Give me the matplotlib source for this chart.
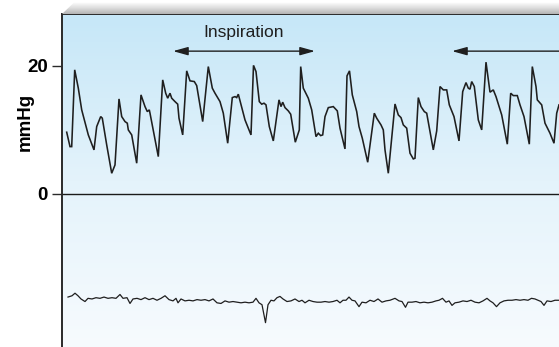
import numpy as np
import matplotlib
matplotlib.use("Agg")
import matplotlib.pyplot as plt
from matplotlib.colors import LinearSegmentedColormap
from matplotlib.patches import Polygon

# ---- data (time in s, pressure in mmHg) ----
pressure_t = [0.047, 0.08, 0.097, 0.127, 0.163, 0.197, 0.263, 0.32, 0.347, 0.387, 0.403, 0.447,
              0.497, 0.53, 0.57, 0.597, 0.63, 0.653, 0.663, 0.697, 0.747, 0.79, 0.83, 0.853,
              0.873, 0.88, 0.963, 1.007, 1.037, 1.057, 1.08, 1.097, 1.13, 1.157, 1.17, 1.207,
              1.247, 1.28, 1.323, 1.347, 1.407, 1.463, 1.503, 1.53, 1.58, 1.613, 1.657, 1.703,
              1.73, 1.747, 1.763, 1.83, 1.89, 1.915, 1.94, 1.973, 1.997, 2.02, 2.04, 2.073,
              2.113, 2.17, 2.19, 2.207, 2.23, 2.263, 2.287, 2.333, 2.373, 2.387, 2.413, 2.463,
              2.497, 2.54, 2.563, 2.587, 2.607, 2.63, 2.663, 2.713, 2.753, 2.78, 2.83, 2.85,
              2.875, 2.903, 2.947, 2.97, 3.003, 3.057, 3.123, 3.147, 3.19, 3.213, 3.23, 3.263,
              3.33, 3.363, 3.39, 3.413, 3.447, 3.48, 3.513, 3.53, 3.563, 3.59, 3.623, 3.647,
              3.713, 3.747, 3.78, 3.813, 3.847, 3.873, 3.92, 3.947, 3.97, 4.007, 4.04, 4.063,
              4.08, 4.097, 4.123, 4.163, 4.197, 4.24, 4.28, 4.313, 4.34, 4.397, 4.453, 4.487,
              4.513, 4.553, 4.58, 4.62, 4.673, 4.703, 4.74, 4.753, 4.797, 4.83, 4.88, 4.92,
              4.947, 4.97]
pressure_v = [9.64, 7.39, 7.39, 19.38, 16.52, 13.13, 9.22, 6.88, 10.52, 12.08, 11.83, 7.66,
              3.23, 4.53, 14.84, 12.08, 11.30, 11.05, 10.0, 9.22, 4.80, 15.47, 13.64, 12.86,
              13.13, 12.61, 5.83, 17.81, 15.73, 14.95, 15.73, 14.95, 14.42, 14.02, 11.83, 9.22,
              19.22, 17.66, 17.55, 16.92, 11.30, 19.89, 16.52, 15.73, 14.42, 12.61, 7.92, 15.05,
              15.20, 15.05, 15.58, 11.56, 9.22, 20.08, 19.11, 14.42, 14.02, 14.17, 13.91, 10.52,
              8.28, 14.69, 13.64, 14.33, 13.48, 12.97, 12.45, 8.08, 10.0, 19.89, 16.52, 14.95,
              13.13, 8.95, 9.48, 9.11, 9.22, 12.08, 13.48, 13.64, 12.97, 10.27, 7.03, 18.44,
              19.22, 15.47, 12.86, 10.52, 8.70, 4.95, 12.61, 11.83, 10.78, 10.0, 6.88, 3.23,
              14.05, 12.34, 11.92, 10.78, 10.27, 6.36, 5.47, 5.58, 15.05, 13.64, 12.86, 12.61,
              6.88, 9.84, 16.77, 16.25, 16.25, 13.91, 12.08, 10.0, 8.28, 15.98, 17.39, 16.52,
              16.36, 17.55, 16.77, 11.56, 10.0, 20.58, 15.89, 16.25, 15.20, 12.34, 7.77, 15.73,
              15.36, 15.36, 13.91, 12.08, 7.77, 19.89, 16.77, 14.69, 13.91, 11.05, 9.48, 7.92,
              12.61, 13.91]

lower_t = [0.06, 0.10, 0.13, 0.16, 0.19, 0.23, 0.26, 0.30, 0.34, 0.38, 0.42, 0.46, 0.50, 0.54,
           0.58, 0.61, 0.65, 0.68, 0.71, 0.75, 0.79, 0.83, 0.87, 0.91, 0.95, 0.99, 1.03, 1.07,
           1.11, 1.14, 1.16, 1.19, 1.23, 1.27, 1.31, 1.35, 1.39, 1.43, 1.47, 1.51, 1.55, 1.59,
           1.63, 1.67, 1.71, 1.75, 1.79, 1.83, 1.87, 1.91, 1.94, 1.97, 2.00, 2.035, 2.06, 2.09,
           2.12, 2.15, 2.18, 2.21, 2.25, 2.29, 2.33, 2.37, 2.40, 2.43, 2.47, 2.51, 2.55, 2.59,
           2.63, 2.67, 2.71, 2.75, 2.78, 2.81, 2.84, 2.87, 2.90, 2.93, 2.97, 3.00, 3.04, 3.08,
           3.12, 3.16, 3.20, 3.24, 3.28, 3.33, 3.37, 3.40, 3.435, 3.46, 3.50, 3.54, 3.58, 3.62,
           3.66, 3.70, 3.74, 3.77, 3.805, 3.84, 3.87, 3.90, 3.93, 3.97, 4.01, 4.05, 4.09, 4.13,
           4.17, 4.21, 4.25, 4.28, 4.31, 4.345, 4.38, 4.42, 4.46, 4.50, 4.54, 4.58, 4.62, 4.66,
           4.695, 4.73, 4.76, 4.79, 4.82, 4.85, 4.89, 4.93, 4.97]
lower_v = [-16.1, -15.9, -15.5, -15.9, -16.4, -16.8, -16.3, -16.4, -16.2, -16.3, -16.1, -16.3,
           -16.2, -16.3, -15.7, -16.3, -16.2, -17.1, -16.4, -16.3, -16.5, -16.2, -16.5, -16.3,
           -16.6, -16.3, -15.9, -16.5, -16.7, -16.3, -17.0, -16.4, -16.7, -16.6, -16.7, -16.5,
           -16.6, -16.5, -16.7, -16.4, -17.0, -17.1, -16.7, -16.9, -16.8, -16.9, -17.0, -16.9,
           -17.0, -16.9, -16.3, -17.0, -17.3, -20.1, -17.3, -16.6, -16.7, -16.2, -16.0, -16.4,
           -16.8, -16.7, -16.4, -16.8, -16.6, -17.0, -16.6, -16.8, -16.9, -16.9, -16.8, -16.9,
           -16.8, -16.6, -17.0, -16.6, -16.6, -16.1, -16.6, -16.7, -17.6, -16.9, -17.0, -16.6,
           -16.8, -16.4, -16.9, -16.7, -16.6, -16.3, -16.7, -16.8, -17.7, -16.9, -16.9, -16.8,
           -17.0, -16.9, -17.0, -16.9, -16.7, -16.6, -16.3, -16.9, -16.7, -17.4, -17.0, -16.9,
           -16.7, -16.8, -16.6, -16.9, -17.0, -16.7, -16.3, -16.7, -17.0, -17.6, -17.0, -16.7,
           -16.6, -16.6, -16.5, -16.6, -16.5, -16.6, -16.3, -16.4, -16.6, -16.8, -17.4, -16.7,
           -16.8, -16.6, -16.6]

ytick_vals = [0, 20]
ytick_labels = ["0", "20"]
y_label = "mmHg"
insp_label = "Inspiration"
insp_span = [1.11, 2.53]
insp_span2 = [3.90, 5.2]
arrow_y = 22.3
label_y = 25.2

# ---- figure ----
W, H, DPI = 559, 347, 100
fig = plt.figure(figsize=(W / DPI, H / DPI), dpi=DPI)
fig.patch.set_facecolor("white")

ax_left = 62 / W
ax_top = 1 - 14 / H
ax = fig.add_axes([ax_left, 0.0, 1.0 - ax_left, ax_top])
ax.set_xlim(0, 4.97)
ax.set_ylim(-23.9, 28.1)

# background gradient
cmap = LinearSegmentedColormap.from_list("bg", ["#f7fbfe", "#e4f3fb", "#c6e7f8"])
grad = np.linspace(0, 1, 256).reshape(-1, 1)
ax.imshow(grad, extent=[0, 4.97, -23.9, 28.1], origin="lower", aspect="auto",
          cmap=cmap, zorder=0, interpolation="bicubic")

# shadow frame above the axes (bevel)
sh = fig.add_axes([0, ax_top, 1, 1 - ax_top])
sh.set_xlim(0, W)
sh.set_ylim(0, 14)
sh.axis("off")
shcmap = LinearSegmentedColormap.from_list("sh", ["#b4b4b4", "#dcdcdc", "#ffffff"])
img = sh.imshow(np.linspace(0, 1, 64).reshape(-1, 1), extent=[0, W, 0, 11.5],
                origin="lower", aspect="auto", cmap=shcmap, zorder=0)
poly = Polygon([(62, 0), (74, 11.5), (W, 11.5), (W, 0)], closed=True, transform=sh.transData)
img.set_clip_path(poly)

# traces
ax.plot(pressure_t, pressure_v, color="#1f1f1f", lw=1.15, zorder=3, solid_joinstyle="miter")
ax.plot(lower_t, lower_v, color="#1f1f1f", lw=0.9, zorder=3)
ax.axhline(0, color="#1a1a1a", lw=1.0, zorder=2)

# spines
for s in ["right", "bottom"]:
    ax.spines[s].set_visible(False)
for s in ["left", "top"]:
    ax.spines[s].set_color("#2a2a2a")
    ax.spines[s].set_linewidth(1.4)

ax.set_xticks([])
ax.set_yticks(ytick_vals)
narrow = ["Liberation Sans Narrow", "Liberation Sans", "DejaVu Sans"]
ax.set_yticklabels(ytick_labels, fontfamily=narrow, fontweight="bold", fontsize=13.5)
ax.tick_params(axis="y", length=7, width=1.0, color="#2a2a2a", pad=3)
ax.set_ylabel(y_label, fontfamily=narrow, fontweight="bold", fontsize=13.5)
ax.yaxis.set_label_coords(-0.056, 0.676)

# annotations
ax.annotate("", xy=(insp_span[0], arrow_y), xytext=(insp_span[1], arrow_y),
            arrowprops=dict(arrowstyle="<|-|>,head_length=0.9,head_width=0.25",
                            color="#1f1f1f", lw=1.0, shrinkA=0, shrinkB=0), zorder=4)
ax.annotate("", xy=(insp_span2[0], arrow_y), xytext=(insp_span2[1], arrow_y),
            arrowprops=dict(arrowstyle="-|>,head_length=0.9,head_width=0.25",
                            color="#1f1f1f", lw=1.0, shrinkA=0, shrinkB=0),
            annotation_clip=False, zorder=4)
ax.text(sum(insp_span) / 2, label_y, insp_label, ha="center", va="center",
        fontfamily=narrow, fontsize=12.5, color="#1f1f1f", zorder=4)

fig.savefig("out.png", dpi=DPI)
